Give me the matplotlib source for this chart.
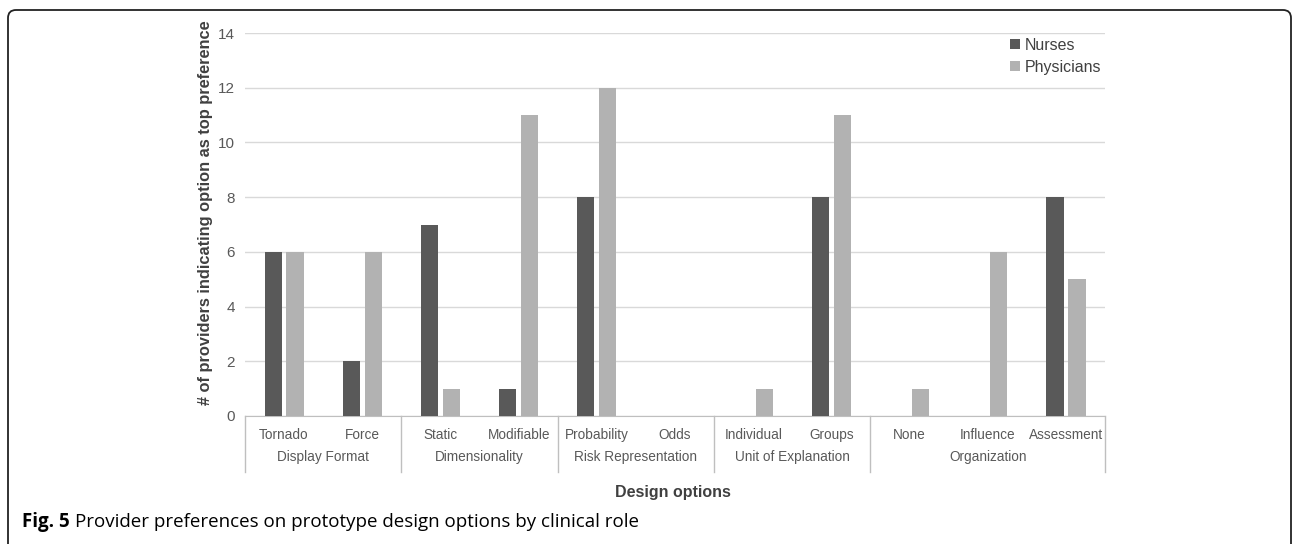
"""
Provider preferences on prototype design options by clinical role (grouped bars).
"""

import matplotlib
matplotlib.use("Agg")
import matplotlib.pyplot as plt
import matplotlib.transforms as mtransforms
from matplotlib.patches import FancyBboxPatch
import numpy as np

# Data
groups = ["Display Format", "Dimensionality", "Risk Representation",
          "Unit of Explanation", "Organization"]
group_sizes = [2, 2, 2, 2, 3]
options = ["Tornado", "Force", "Static", "Modifiable", "Probability", "Odds",
           "Individual", "Groups", "None", "Influence", "Assessment"]
nurses = [6, 2, 7, 1, 8, 0, 0, 8, 0, 0, 8]
physicians = [6, 6, 1, 11, 12, 0, 1, 11, 1, 6, 5]

DARK = "#595959"
LIGHT = "#b2b2b2"
TXT = "#595959"
AX_COLOR = "#bfbfbf"

plt.rcParams["font.family"] = ["Liberation Sans", "DejaVu Sans"]

fig = plt.figure(figsize=(12.92, 5.44), dpi=100)
ax = fig.add_axes([0.1896, 0.2353, 0.8553 - 0.1896, 0.9393 - 0.2353])

x = np.arange(len(options))
w = 0.22
ax.bar(x - 0.14, nurses, width=w, color=DARK, label="Nurses", zorder=3)
ax.bar(x + 0.14, physicians, width=w, color=LIGHT, label="Physicians", zorder=3)

ax.set_xlim(-0.5, len(options) - 0.5)
ax.set_ylim(0, 14)
ax.set_yticks(range(0, 15, 2))
ax.grid(axis="y", color="#d9d9d9", linewidth=1, zorder=0)
for s in ["top", "right", "left"]:
    ax.spines[s].set_visible(False)
ax.spines["bottom"].set_color(AX_COLOR)
ax.tick_params(axis="y", length=0, labelsize=11, labelcolor=TXT, pad=7)
ax.tick_params(axis="x", length=0, labelsize=9.8, labelcolor=TXT, pad=9)
ax.set_xticks(x)
ax.set_xticklabels(options)

# group labels and separators below the axis
trans = mtransforms.blended_transform_factory(ax.transData, ax.transAxes)
start = -0.5
ax.plot([start, start], [0, -0.145], color=AX_COLOR, lw=1, transform=trans, clip_on=False)
for name, n in zip(groups, group_sizes):
    end = start + n
    ax.plot([end, end], [0, -0.145], color=AX_COLOR, lw=1, transform=trans, clip_on=False)
    ax.text((start + end) / 2, -0.107, name, ha="center", va="center",
            fontsize=9.8, color=TXT, transform=trans)
    start = end

ax.set_ylabel("# of providers indicating option as top preference", fontsize=11.8,
              fontweight="bold", color="#404040")
ax.yaxis.set_label_coords(-0.037, 0.53)
fig.text(0.521, 0.094, "Design options", ha="center", va="center",
         fontsize=11.5, fontweight="bold", color="#404040")

ax.legend(loc="upper right", bbox_to_anchor=(1.012, 1.025), frameon=False, fontsize=11.5,
          handlelength=0.6, handleheight=0.6, handletextpad=0.3, labelspacing=0.45,
          labelcolor="#404040")

fig.text(0.017, 0.040, "Fig. 5", ha="left", va="center", fontsize=13.5,
         fontweight="bold", family=["Open Sans", "DejaVu Sans"])
fig.text(0.058, 0.040, "Provider preferences on prototype design options by clinical role",
         ha="left", va="center", fontsize=13.5, family=["Open Sans", "DejaVu Sans"])

# rounded frame around the figure
frame = FancyBboxPatch((8, -30), 1283, 564, boxstyle="round,pad=0,rounding_size=8",
                       transform=mtransforms.IdentityTransform(), fill=False,
                       edgecolor="#222222", linewidth=1.3)
fig.patches.append(frame)

plt.savefig("out.png", dpi=100)
